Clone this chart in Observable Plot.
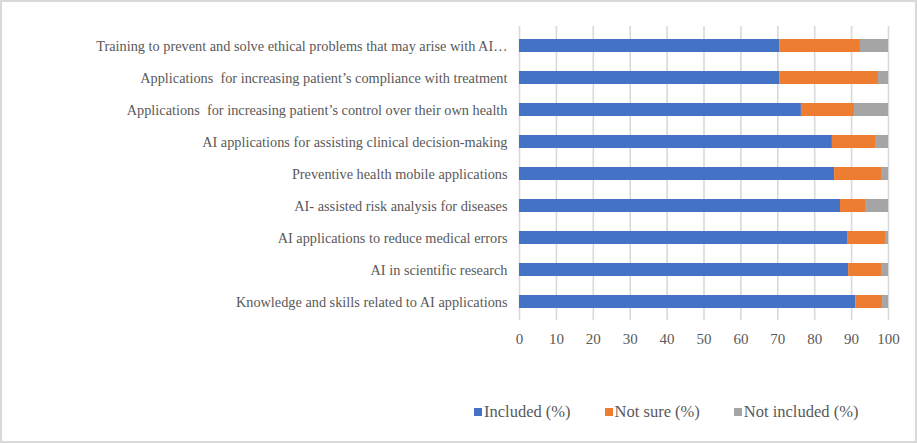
<!DOCTYPE html>
<html>
<head>
<meta charset="utf-8">
<script src="https://cdn.jsdelivr.net/npm/d3@7"></script>
<script src="https://cdn.jsdelivr.net/npm/@observablehq/plot@0.6"></script>
<style>
  html, body { margin: 0; padding: 0; background: #fff; }
  #wrap { position: relative; width: 917px; height: 443px; overflow: hidden; font-family: "Liberation Serif", "Times New Roman", serif; }
  #frame { position: absolute; left: 0; top: 0; width: 917px; height: 443px; box-sizing: border-box; border: 2px solid #d9d9d9; pointer-events: none; }
  #chart { position: absolute; left: 0; top: 0; }
  #legend { position: absolute; left: 474px; top: 402px; display: flex; gap: 0; font-size: 16.5px; color: #595959; white-space: nowrap; }
  .item { display: flex; align-items: center; margin-right: 34px; }
  .sw { width: 8px; height: 8px; margin-right: 2px; display: inline-block; }
</style>
</head>
<body>
<div id="wrap">
  <div id="chart"></div>
  <div id="legend"></div>
  <div id="frame"></div>
</div>
<script>
const categories = [
  "Training to prevent and solve ethical problems that may arise with AI\u2026",
  "Applications  for increasing patient\u2019s compliance with treatment",
  "Applications  for increasing patient\u2019s control over their own health",
  "AI applications for assisting clinical decision-making",
  "Preventive health mobile applications",
  "AI- assisted risk analysis for diseases",
  "AI applications to reduce medical errors",
  "AI in scientific research",
  "Knowledge and skills related to AI applications"
];
const included    = [70.5, 70.5, 76.4, 84.8, 85.4, 87.0, 88.9, 89.2, 91.1];
const notSure     = [21.9, 26.8, 14.4, 11.9, 12.7, 7.0, 10.3, 8.9, 7.3];
const notIncluded = [7.6, 2.7, 9.2, 3.3, 1.9, 6.0, 0.8, 1.9, 1.6];
const seriesNames = ["Included (%)", "Not sure (%)", "Not included (%)"];
const seriesColors = ["#4472C4", "#ED7D31", "#A5A5A5"];
const xTicks = [0, 10, 20, 30, 40, 50, 60, 70, 80, 90, 100];

const seriesValues = [included, notSure, notIncluded];
const rows = [];
categories.forEach((c, i) => {
  seriesNames.forEach((s, j) => rows.push({category: c, series: s, value: seriesValues[j][i]}));
});

const plot = Plot.plot({
  width: 917,
  height: 360,
  marginLeft: 519,
  marginRight: 29,
  marginTop: 26,
  marginBottom: 40,
  style: {fontFamily: "'Liberation Serif', 'Times New Roman', serif", fontSize: "15px", color: "#595959", background: "transparent"},
  x: {domain: [0, 100], ticks: xTicks, label: null},
  y: {domain: categories, paddingInner: 0.6, paddingOuter: 0.3, label: null},
  color: {domain: seriesNames, range: seriesColors},
  marks: [
    Plot.gridX(xTicks, {stroke: "#d9d9d9", strokeOpacity: 1, strokeWidth: 1.6}),
    Plot.barX(rows, Plot.stackX({order: seriesNames, y: "category", x: "value", fill: "series"})),
    Plot.axisX({ticks: xTicks, tickSize: 0, tickPadding: 13, fill: "#595959", fontSize: 15, label: null}),
    Plot.axisY({tickSize: 0, tickPadding: 12, fill: "#595959", fontSize: 14.3, label: null, textOverflow: null, lineWidth: Infinity})
  ]
});
plot.querySelectorAll("text").forEach(t => t.setAttribute("xml:space", "preserve"));
document.getElementById("chart").appendChild(plot);

const legend = document.getElementById("legend");
seriesNames.forEach((s, j) => {
  const item = document.createElement("div");
  item.className = "item";
  const sw = document.createElement("span");
  sw.className = "sw";
  sw.style.background = seriesColors[j];
  item.appendChild(sw);
  item.appendChild(document.createTextNode(s));
  legend.appendChild(item);
});
</script>
</body>
</html>
